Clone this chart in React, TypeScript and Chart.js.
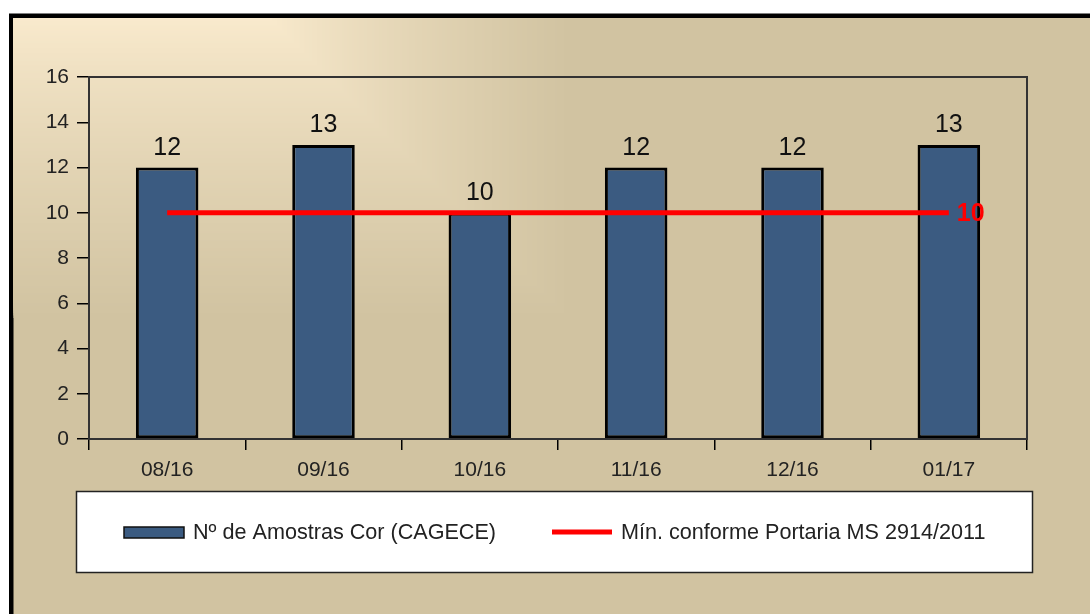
import React, { useEffect, useRef } from "react";
import { Chart, registerables } from "chart.js";

Chart.register(...registerables);

const categories = ["08/16", "09/16", "10/16", "11/16", "12/16", "01/17"];
const amostras = [12, 13, 10, 12, 12, 13];
const minimo = [10, 10, 10, 10, 10, 10];
const yTicksMax = 16;
const yTickStep = 2;
const seriesLabels = ["Nº de Amostras Cor (CAGECE)", "Mín. conforme Portaria MS 2914/2011"];

const BAR_COLOR = "#3B5B81";
const LINE_COLOR = "#FF0000";
const CREAM = [250, 235, 206];
const TAN = [209, 195, 161];
const FONT = "'Liberation Sans', Arial, sans-serif";

const bgPlugin = {
  id: "bgPlugin",
  beforeDraw(chart: any) {
    const ctx = chart.ctx;
    const W = chart.width;
    const H = chart.height;
    ctx.save();
    ctx.fillStyle = "#ffffff";
    ctx.fillRect(0, 0, W, H);
    ctx.fillStyle = "#000000";
    ctx.fillRect(9, 13.5, W, H);
    const x0 = 13.5;
    const y0 = 18;
    ctx.fillStyle = `rgb(${TAN.join(",")})`;
    ctx.fillRect(x0, y0, W, H);
    const N = 120;
    for (let i = N; i >= 0; i--) {
      const t = i / N;
      const e = Math.pow(t, 0.8);
      const c = CREAM.map((v, k) => Math.round(v + (TAN[k] - v) * e));
      ctx.fillStyle = `rgb(${c.join(",")})`;
      ctx.fillRect(x0, y0, 256 + t * 300, t * 300);
    }
    ctx.restore();
  },
  afterDatasetsDraw(chart: any) {
    const ctx = chart.ctx;
    const a = chart.chartArea;
    ctx.save();
    ctx.strokeStyle = "#333333";
    ctx.lineWidth = 2;
    ctx.strokeRect(a.left, a.top, a.right - a.left, a.bottom - a.top);
    const barMeta = chart.getDatasetMeta(1);
    ctx.fillStyle = "#111111";
    ctx.font = `25px ${FONT}`;
    ctx.textAlign = "center";
    ctx.textBaseline = "alphabetic";
    barMeta.data.forEach((el: any, i: number) => {
      ctx.fillText(String(chart.data.datasets[1].data[i]), el.x, el.y - 12.5);
    });
    const lineMeta = chart.getDatasetMeta(0);
    const last = lineMeta.data.length - 1;
    const pt = lineMeta.data[last];
    ctx.fillStyle = LINE_COLOR;
    ctx.font = `bold 25px ${FONT}`;
    ctx.textAlign = "left";
    ctx.textBaseline = "middle";
    ctx.fillText(String(chart.data.datasets[0].data[last]), pt.x + 8, pt.y + 1);
    ctx.restore();
  },
  afterDraw(chart: any) {
    const ctx = chart.ctx;
    ctx.save();
    ctx.fillStyle = "#ffffff";
    ctx.fillRect(76, 491, 957, 82);
    ctx.strokeStyle = "#222222";
    ctx.lineWidth = 1.5;
    ctx.strokeRect(76.5, 491.5, 956, 81);
    ctx.fillStyle = BAR_COLOR;
    ctx.fillRect(124, 527, 60, 11);
    ctx.strokeStyle = "#111111";
    ctx.lineWidth = 1.5;
    ctx.strokeRect(124, 527, 60, 11);
    ctx.fillStyle = "#222222";
    ctx.font = `21.6px ${FONT}`;
    ctx.textAlign = "left";
    ctx.textBaseline = "middle";
    ctx.fillText(chart.data.datasets[1].label, 193, 533);
    ctx.strokeStyle = LINE_COLOR;
    ctx.lineWidth = 5;
    ctx.beginPath();
    ctx.moveTo(552, 532);
    ctx.lineTo(612, 532);
    ctx.stroke();
    ctx.fillText(chart.data.datasets[0].label, 621, 533);
    ctx.restore();
  },
};

export default function App() {
  const ref = useRef<HTMLCanvasElement | null>(null);
  useEffect(() => {
    if (!ref.current) return;
    const chart = new Chart(ref.current, {
      type: "bar",
      data: {
        labels: categories,
        datasets: [
          {
            type: "line",
            label: seriesLabels[1],
            data: minimo,
            borderColor: LINE_COLOR,
            backgroundColor: LINE_COLOR,
            borderWidth: 5,
            pointRadius: 0,
            fill: false,
            order: 0,
          } as any,
          {
            type: "bar",
            label: seriesLabels[0],
            data: amostras,
            backgroundColor: BAR_COLOR,
            borderColor: "#000000",
            borderWidth: 3,
            borderSkipped: false,
            categoryPercentage: 1,
            barPercentage: 0.4,
            order: 1,
          } as any,
        ],
      },
      options: {
        responsive: false,
        animation: false,
        layout: { padding: { left: 0, top: 77, right: 63, bottom: 0 } },
        plugins: { legend: { display: false }, tooltip: { enabled: false } },
        scales: {
          x: {
            offset: true,
            grid: {
              offset: true,
              drawOnChartArea: false,
              drawTicks: true,
              tickLength: 11,
              color: "#000000",
              lineWidth: 1.5,
            },
            border: { display: true, color: "#000000", width: 2 },
            ticks: { color: "#222222", font: { family: FONT, size: 21 }, padding: 8 },
            afterFit(scale: any) {
              scale.height = 175;
            },
          },
          y: {
            min: 0,
            max: yTicksMax,
            ticks: {
              stepSize: yTickStep,
              color: "#222222",
              font: { family: FONT, size: 21 },
              padding: 8,
            },
            grid: {
              drawOnChartArea: false,
              drawTicks: true,
              tickLength: 12,
              color: "#000000",
              lineWidth: 1.5,
            },
            border: { display: true, color: "#000000", width: 2 },
            afterFit(scale: any) {
              scale.width = 89;
            },
          },
        },
      } as any,
      plugins: [bgPlugin],
    });
    return () => chart.destroy();
  }, []);
  return (
    <div style={{ position: "fixed", left: 0, top: 0, width: 1090, height: 614 }}>
      <canvas ref={ref} width={1090} height={614} style={{ display: "block" }} />
    </div>
  );
}
